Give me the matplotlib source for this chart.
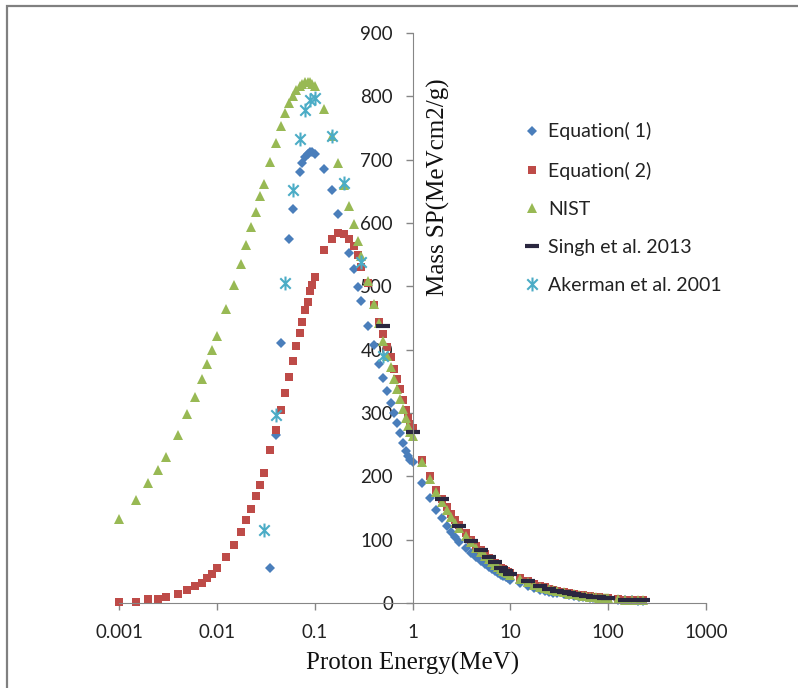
import numpy as np
import matplotlib
matplotlib.use('Agg')
import matplotlib.pyplot as plt
from matplotlib.path import Path
from matplotlib.patches import Rectangle

# energy grid (MeV) for the PSTAR-like tables
grid_low = [0.001, 0.0015, 0.002, 0.0025, 0.003, 0.004, 0.005, 0.006, 0.007, 0.008, 0.009,
            0.01, 0.0125, 0.015, 0.0175, 0.02, 0.0225, 0.025, 0.0275, 0.03, 0.035, 0.04,
            0.045, 0.05, 0.055, 0.06, 0.065, 0.07, 0.075, 0.08, 0.085, 0.09, 0.095, 0.1,
            0.125, 0.15, 0.175, 0.2, 0.225, 0.25, 0.275, 0.3, 0.35, 0.4, 0.45, 0.5, 0.55,
            0.6, 0.65, 0.7, 0.75, 0.8, 0.85, 0.9, 0.95, 1.0]
grid_high = [1.25, 1.5, 1.75, 2, 2.25, 2.5, 2.75, 3, 3.5, 4, 4.5, 5, 5.5, 6, 6.5, 7, 7.5, 8,
             8.5, 9, 9.5, 10, 12.5, 15, 17.5, 20, 22.5, 25, 27.5, 30, 35, 40, 45, 50, 55, 60,
             65, 70, 75, 80, 85, 90, 95, 100, 125, 150, 175, 200, 225]

# Equation(1)
eq1_E = [0.035, 0.04, 0.045, 0.055, 0.06, 0.07, 0.075, 0.08, 0.085, 0.09, 0.095, 0.1, 0.125,
         0.15, 0.175, 0.225, 0.25, 0.275, 0.3, 0.35, 0.4, 0.45, 0.5, 0.55, 0.6, 0.65, 0.7,
         0.75, 0.8, 0.85, 0.9, 0.95, 1.0] + grid_high
eq1_S = [55, 265, 411, 574, 622, 680, 695, 704, 709, 712, 712, 709, 686,
         652, 615, 552, 527, 499, 477, 437, 408, 378, 356, 335, 316, 300, 284,
         268, 252, 240, 232, 226, 222,
         190, 166, 147, 134, 121, 112, 104, 97, 87, 79, 72, 66, 61, 57, 53, 50, 47, 45,
         43, 41, 39, 37, 31, 27, 24, 21, 19, 17.5, 16.3, 15.2, 13.5, 12, 11, 10.2, 9.5, 8.9,
         8.4, 7.9, 7.5, 7.1, 6.8, 6.5, 6.3, 6.0, 5.1, 4.4, 4.0, 3.7, 3.4]

# Equation(2)
eq2_E = grid_low + grid_high
eq2_S = [1, 2, 6, 7, 10, 14, 21, 27, 32, 39, 46,
         55, 73, 92, 112, 131, 148, 169, 187, 205, 241, 273,
         305, 332, 357, 382, 406, 427, 444, 463, 476, 492, 502, 515,
         557, 575, 584, 583, 575, 563, 550, 531, 505, 470, 444, 424, 405,
         388, 370, 354, 338, 320, 305, 292, 282, 276,
         226, 200, 179, 165, 152, 140, 131, 123, 110, 99, 90, 83, 77, 71, 67, 63, 59, 56,
         53, 51, 49, 47, 39.5, 34, 30, 27, 24.5, 22.5, 21, 19.5, 17.2, 15.5, 14, 12.8, 11.9,
         11.1, 10.4, 9.8, 9.3, 8.8, 8.4, 8.0, 7.7, 7.4, 6.2, 5.5, 4.9, 4.6, 4.3]

# NIST
nist_E = grid_low + grid_high
nist_S = [133, 163, 189, 210, 230, 265, 299, 326, 353, 377, 400,
          422, 465, 502, 536, 566, 593, 618, 642, 661, 697, 727,
          753, 773, 789, 801, 810, 816, 820, 822, 823, 822, 820, 817,
          780, 737, 694, 660, 627, 598, 572, 548, 508, 472, 442, 413, 390,
          372, 354, 338, 322, 306, 292, 280, 270, 263,
          222, 196, 175, 160, 147, 136, 127, 119, 106, 96, 87, 80, 74, 69, 64, 60, 57, 54,
          51, 49, 47, 45, 38, 33, 29, 26, 23.5, 21.8, 20.3, 19, 16.8, 15, 13.7, 12.5, 11.6,
          10.8, 10.2, 9.6, 9.1, 8.6, 8.2, 7.8, 7.5, 7.3, 6.1, 5.4, 4.8, 4.5, 4.2]

# Singh et al. 2013
singh_E = [0.5, 1, 2, 3, 4, 5, 6, 7, 8, 9, 10, 15, 20, 25, 30, 35, 40, 45, 50, 60, 70, 80,
           90, 100, 150, 200, 225]
singh_S = [437, 270, 165, 122, 98, 83, 72, 64, 56, 51, 46, 34, 27, 22, 19, 17, 15.3, 14,
           12.8, 11, 9.8, 8.8, 8, 7.4, 5.5, 4.6, 4.3]

# Akerman et al. 2001
aker_E = [0.03, 0.04, 0.05, 0.06, 0.07, 0.08, 0.09, 0.1, 0.15, 0.2, 0.3, 0.5]
aker_S = [116, 297, 505, 652, 732, 778, 794, 797, 737, 663, 539, 390]

xticks = [0.001, 0.01, 0.1, 1, 10, 100, 1000]
xtick_labels = ['0.001', '0.01', '0.1', '1', '10', '100', '1000']
yticks = [0, 100, 200, 300, 400, 500, 600, 700, 800, 900]

W, H = 798, 688
fig = plt.figure(figsize=(W / 100, H / 100), dpi=100)
ax = fig.add_axes([119 / W, 1 - 603 / H, (706 - 119) / W, (603 - 33) / H])

# excel-like star: x with a vertical bar
star = Path([(0, -1), (0, 1), (-0.75, -0.75), (0.75, 0.75), (-0.75, 0.75), (0.75, -0.75)],
            [Path.MOVETO, Path.LINETO, Path.MOVETO, Path.LINETO, Path.MOVETO, Path.LINETO])

ax.plot(eq1_E, eq1_S, 'D', color='#4a7ebb', ms=5.2, mew=0, label='Equation( 1)', clip_on=False)
ax.plot(eq2_E, eq2_S, 's', color='#be4b48', ms=6, mew=0, label='Equation( 2)', clip_on=False)
ax.plot(nist_E, nist_S, '^', color='#98b954', ms=6.5, mew=0, label='NIST', clip_on=False)
ax.plot(singh_E, singh_S, '_', color='#2a2740', ms=10, mew=3, label='Singh et al. 2013',
        clip_on=False)
ax.plot(aker_E, aker_S, ls='none', marker=star, color='#4bacc6', mfc='none',
        mec='#4bacc6', ms=10, mew=1.5, label='Akerman et al. 2001', clip_on=False)

ax.set_xscale('log')
ax.set_xlim(0.001, 1000)
ax.set_ylim(0, 900)
ax.set_xticks(xticks, labels=xtick_labels)
ax.minorticks_off()
ax.set_yticks(yticks)

gray = '#868686'
for s in ['top', 'right']:
    ax.spines[s].set_visible(False)
ax.spines['left'].set_position(('data', 1))
ax.spines['left'].set_color(gray)
ax.spines['bottom'].set_color(gray)
ax.tick_params(axis='both', colors=gray, length=5, width=1, labelcolor='#222222',
               labelsize=13.5)
ax.tick_params(axis='x', pad=10)
ax.tick_params(axis='y', pad=9)
for t in ax.get_xticklabels() + ax.get_yticklabels():
    t.set_family(['Lato', 'DejaVu Sans'])

ax.set_xlabel('Proton Energy(MeV)', family='Liberation Serif', fontsize=18, color='#111111')
ax.xaxis.set_label_coords(0.5, -0.086)
ax.set_ylabel('Mass SP(MeVcm2/g)', family='Liberation Serif', fontsize=18, color='#111111',
              ha='center', va='center')
ax.yaxis.set_label_coords((438 - 119) / 587, (603 - 187) / 570)

leg = ax.legend(loc='center left', bbox_to_anchor=(514 / W, 1 - 208 / H),
                bbox_transform=fig.transFigure, frameon=False, handlelength=0.9,
                handletextpad=0.35, labelspacing=1.08, borderpad=0,
                prop={'family': 'Lato', 'size': 14})
for t in leg.get_texts():
    t.set_color('#222222')

fig.patches.append(Rectangle((7 / W, -0.05), 1.2, 1 - 6 / H + 0.05, transform=fig.transFigure,
                             fill=False, edgecolor='#808080', lw=1.6))

fig.savefig('out.png', dpi=100)
